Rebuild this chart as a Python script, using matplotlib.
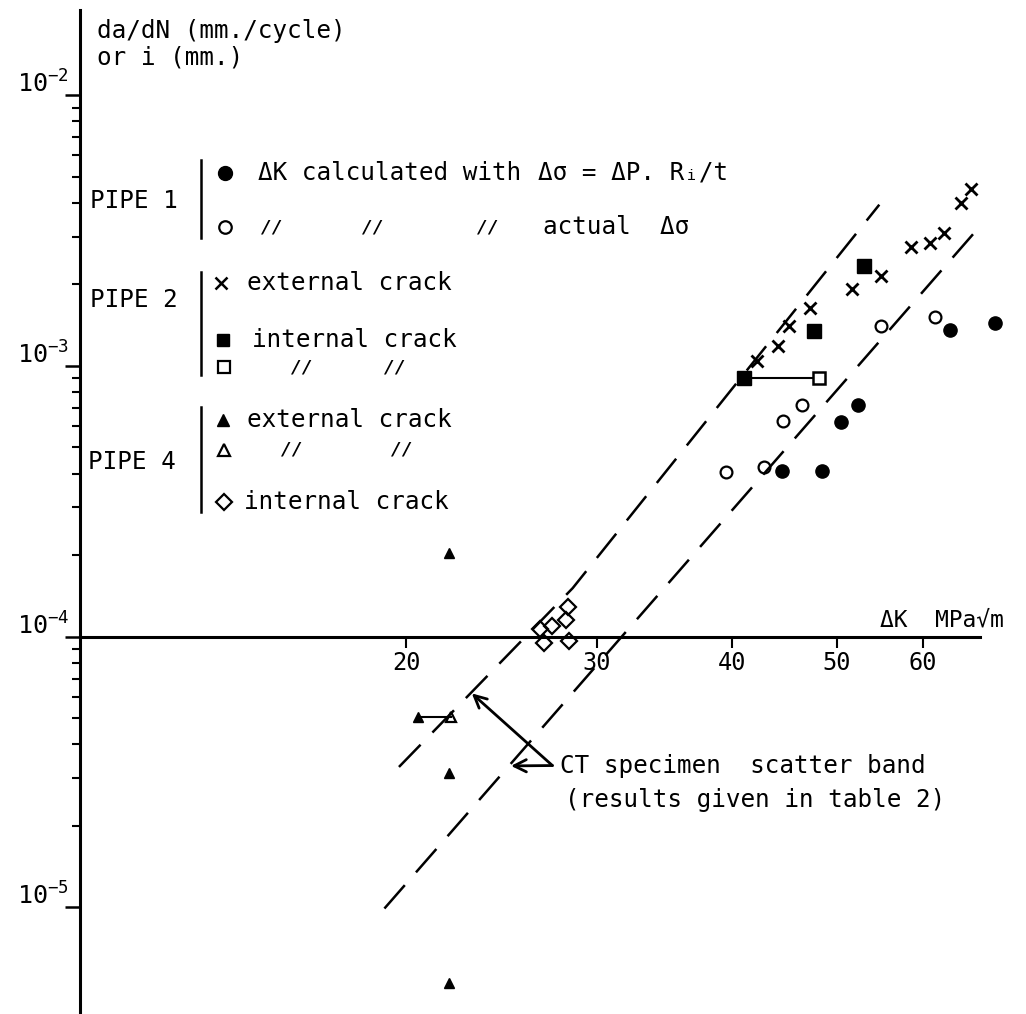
import matplotlib
matplotlib.use('Agg')
import matplotlib.pyplot as plt
from matplotlib.transforms import Affine2D
from matplotlib.ticker import FixedLocator, NullLocator, NullFormatter

plt.rcParams['font.family'] = ['DejaVu Sans Mono', 'DejaVu Sans']
plt.rcParams['mathtext.fontset'] = 'custom'
plt.rcParams['mathtext.rm'] = 'DejaVu Sans Mono'
plt.rcParams['mathtext.it'] = 'DejaVu Sans Mono'

# ---- data (delta K in MPa*sqrt(m), rate in mm/cycle) ----
# PIPE 1
pipe1_calc_dk = [44.5, 48.4, 50.4, 52.3, 63.6, 70.0]
pipe1_calc_rate = [4.1e-4, 4.1e-4, 6.2e-4, 7.2e-4, 1.36e-3, 1.44e-3]
pipe1_actual_dk = [39.5, 42.8, 44.6, 46.4, 54.9, 61.6]
pipe1_actual_rate = [4.07e-4, 4.24e-4, 6.28e-4, 7.17e-4, 1.40e-3, 1.52e-3]

# PIPE 2
pipe2_ext_dk = [42.2, 44.1, 45.1, 47.2, 51.6, 54.9, 58.5, 60.9, 62.7, 65.1, 66.5]
pipe2_ext_rate = [1.04e-3, 1.18e-3, 1.40e-3, 1.63e-3, 1.92e-3, 2.15e-3,
                  2.74e-3, 2.85e-3, 3.11e-3, 3.99e-3, 4.49e-3]
pipe2_int_dk = [41.0, 47.6, 52.9]
pipe2_int_rate = [9.0e-4, 1.34e-3, 2.33e-3]
pipe2_int_actual_dk = [48.1]
pipe2_int_actual_rate = [9.0e-4]

# PIPE 4
pipe4_ext_dk = [21.9, 20.5, 21.9, 21.9]
pipe4_ext_rate = [2.03e-4, 5.06e-5, 3.13e-5, 5.25e-6]
pipe4_ext_actual_dk = [22.0]
pipe4_ext_actual_rate = [5.06e-5]
pipe4_int_dk = [28.2, 28.1, 27.3, 26.6, 26.8, 28.3]
pipe4_int_rate = [1.29e-4, 1.15e-4, 1.09e-4, 1.07e-4, 9.5e-5, 9.6e-5]

# CT specimen scatter band limits
band_upper_dk = [19.7, 28.5, 54.7]
band_upper_rate = [3.3e-5, 1.51e-4, 3.94e-3]
band_lower_dk = [19.1, 67.3]
band_lower_rate = [9.9e-6, 3.18e-3]

# arrows of the band note
arrow_tail = (27.3, 3.34e-5)
arrow_tips = [(23.0, 6.17e-5), (25.0, 3.33e-5)]

x_ticks = [20, 30, 40, 50, 60]
y_decades = [1e-5, 1e-4, 1e-3, 1e-2]
y_labels = ['$10^{-5}$', '$10^{-4}$', '$10^{-3}$', '$10^{-2}$']

# ---- figure ----
W, H = 1026, 1014
fig = plt.figure(figsize=(W / 100, H / 100), dpi=100)
ax = fig.add_axes([0, 0, 1, 1])
ax.set_xscale('log')
ax.set_yscale('log')
ax.set_xlim(8.435, 74.72)
ax.set_ylim(4.036e-6, 0.02247)

# pixel coordinates measured from the top-left corner
px = Affine2D().scale(1 / W, -1 / H).translate(0, 1) + fig.transFigure

# axes lines crossing at dK = 10, rate = 1e-4
for s in ['top', 'right']:
    ax.spines[s].set_visible(False)
ax.spines['left'].set_position(('data', 10))
ax.spines['left'].set_bounds(4.036e-6, 0.0206)
ax.spines['bottom'].set_position(('data', 1e-4))
ax.spines['bottom'].set_bounds(10, 67.8)
ax.spines['left'].set_linewidth(2.2)
ax.spines['bottom'].set_linewidth(2.2)

ax.xaxis.set_major_locator(FixedLocator(x_ticks))
ax.xaxis.set_minor_locator(NullLocator())
ax.set_xticklabels([str(t) for t in x_ticks])
ax.tick_params(axis='x', direction='out', length=8, width=1.5, labelsize=17, pad=2)

minor_y = [k * d for d in [1e-5, 1e-4, 1e-3] for k in range(2, 10)]
ax.yaxis.set_major_locator(FixedLocator(y_decades))
ax.yaxis.set_minor_locator(FixedLocator(minor_y))
ax.yaxis.set_major_formatter(NullFormatter())
ax.yaxis.set_minor_formatter(NullFormatter())
ax.tick_params(axis='y', which='major', direction='out', length=11, width=1.8)
ax.tick_params(axis='y', which='minor', direction='out', length=6, width=1.5)
for v, lbl in zip(y_decades, y_labels):
    ax.annotate(lbl, xy=(10, v), xytext=(-63, 11), textcoords='offset pixels',
                fontsize=18, ha='left', va='center')

# scatter band
dash = (0, (12.4, 6.8))
ax.plot(band_upper_dk, band_upper_rate, color='black', lw=1.8, ls=dash, zorder=2)
ax.plot(band_lower_dk, band_lower_rate, color='black', lw=1.8, ls=dash, zorder=2)

# connectors between calculated and actual values
ax.plot([pipe2_int_dk[0], pipe2_int_actual_dk[0]], [pipe2_int_rate[0], pipe2_int_actual_rate[0]],
        color='black', lw=1.5, zorder=3)
ax.plot([pipe4_ext_dk[1], pipe4_ext_actual_dk[0]], [pipe4_ext_rate[1], pipe4_ext_actual_rate[0]],
        color='black', lw=1.5, zorder=3)

# points
k = dict(ls='none', color='black', zorder=4)
ax.plot(pipe1_calc_dk, pipe1_calc_rate, marker='o', ms=9.5, **k)
ax.plot(pipe1_actual_dk, pipe1_actual_rate, marker='o', ms=8.5, mfc='none', mew=1.6, **k)
ax.plot(pipe2_ext_dk, pipe2_ext_rate, marker='x', ms=8.5, mew=2, **k)
ax.plot(pipe2_int_dk, pipe2_int_rate, marker='s', ms=9.5, **k)
ax.plot(pipe2_int_actual_dk, pipe2_int_actual_rate, marker='s', ms=9, mfc='white', mew=1.8, **k)
ax.plot(pipe4_ext_dk, pipe4_ext_rate, marker='^', ms=7.5, **k)
ax.plot(pipe4_ext_actual_dk, pipe4_ext_actual_rate, marker='^', ms=7.5, mfc='none', mew=1.6, **k)
ax.plot(pipe4_int_dk, pipe4_int_rate, marker='D', ms=8.5, mfc='none', mew=1.6, **k)

# band note with arrows
for tip in arrow_tips:
    ax.annotate('', xy=tip, xytext=arrow_tail,
                arrowprops=dict(arrowstyle='->', lw=2, color='black', mutation_scale=22,
                                shrinkA=0, shrinkB=0))

# ---- texts ----
fs = 17.5
ax.text(97, 31, 'da/dN (mm./cycle)', transform=px, fontsize=fs, va='center')
ax.text(97, 57, 'or i (mm.)', transform=px, fontsize=fs, va='center')
ax.text(880, 620, 'ΔK  MPa√m', transform=px, fontsize=16.5, va='center')
ax.text(560, 766, 'CT specimen  scatter band', transform=px, fontsize=fs, va='center')
ax.text(565, 800, '(results given in table 2)', transform=px, fontsize=fs, va='center')

# legend block
for y0, y1 in [(160, 238), (272, 375), (407, 512)]:
    ax.plot([201, 201], [y0, y1], color='black', lw=1.8, transform=px, clip_on=False)
ax.text(90, 201, 'PIPE 1', transform=px, fontsize=fs, va='center')
ax.text(90, 300, 'PIPE 2', transform=px, fontsize=fs, va='center')
ax.text(88, 462, 'PIPE 4', transform=px, fontsize=fs, va='center')


def leg_marker(x, y, **kw):
    ax.plot([x], [y], ls='none', color='black', transform=px, clip_on=False, **kw)


def ditto(xs, y):
    for x in xs:
        ax.text(x, y, '//', transform=px, fontsize=13, fontweight='bold',
                ha='center', va='center', style='italic')


leg_marker(225, 173, marker='o', ms=10)
ax.text(258, 173, 'ΔK calculated with', transform=px, fontsize=fs, va='center')
ax.text(538, 173, 'Δσ = ΔP. Rᵢ/t', transform=px, fontsize=fs, va='center')
leg_marker(225, 227, marker='o', ms=9, mfc='none', mew=1.6)
ditto([272, 373, 488], 227)
ax.text(543, 227, 'actual  Δσ', transform=px, fontsize=fs, va='center')

leg_marker(221, 283, marker='x', ms=9, mew=1.8)
ax.text(247, 283, 'external crack', transform=px, fontsize=fs, va='center')
leg_marker(223, 340, marker='s', ms=9)
ax.text(252, 340, 'internal crack', transform=px, fontsize=fs, va='center')
leg_marker(224, 367, marker='s', ms=9, mfc='none', mew=1.6)
ditto([302, 395], 367)

leg_marker(223, 420, marker='^', ms=8)
ax.text(247, 420, 'external crack', transform=px, fontsize=fs, va='center')
leg_marker(224, 450, marker='^', ms=8, mfc='none', mew=1.6)
ditto([292, 402], 450)
leg_marker(224, 502, marker='D', ms=8, mfc='none', mew=1.6)
ax.text(244, 502, 'internal crack', transform=px, fontsize=fs, va='center')

fig.savefig('out.png', dpi=100)
